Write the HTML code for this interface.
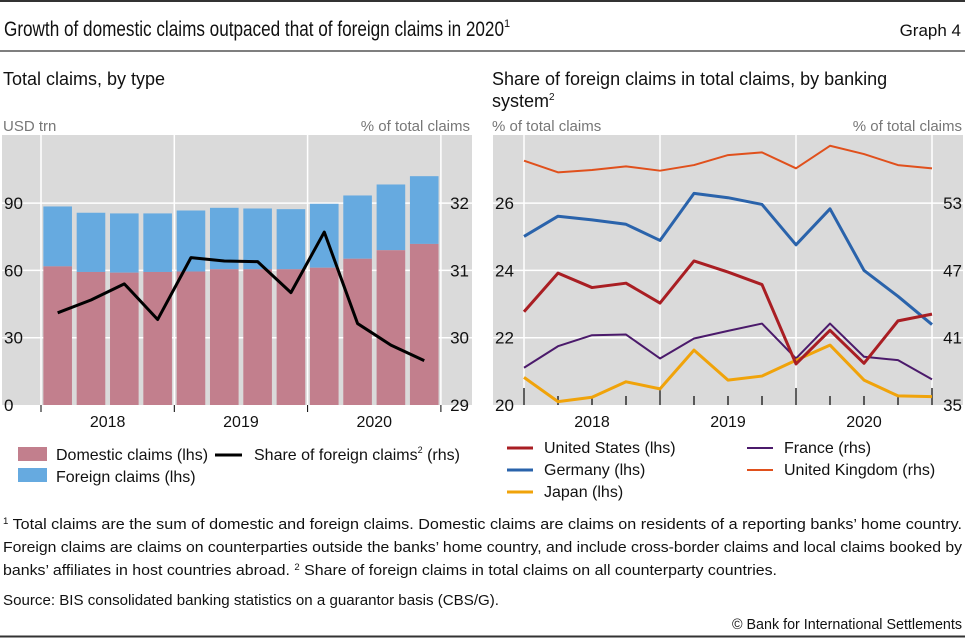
<!DOCTYPE html>
<html><head><meta charset="utf-8"><style>
html,body{margin:0;padding:0;background:#fff;}
svg{display:block;font-family:"Liberation Sans Narrow","Liberation Sans",sans-serif;}
</style></head><body>
<svg id="c" width="965" height="638" viewBox="0 0 965 638" xmlns="http://www.w3.org/2000/svg">
<line x1="0" y1="1" x2="965" y2="1" stroke="#333" stroke-width="2"/>
<text x="4" y="36" font-size="21" fill="#111"><tspan textLength="500" lengthAdjust="spacingAndGlyphs">Growth of domestic claims outpaced that of foreign claims in 2020</tspan><tspan font-size="11" dy="-9">1</tspan></text>
<text x="961" y="36" font-size="17" fill="#111" text-anchor="end">Graph 4</text>
<line x1="0" y1="51" x2="965" y2="51" stroke="#555" stroke-width="1.5"/>
<text x="3" y="85" font-size="18" fill="#111">Total claims, by type</text>
<text x="492" y="85" font-size="18" fill="#111">Share of foreign claims in total claims, by banking</text>
<text x="492" y="107" font-size="18" fill="#111">system<tspan font-size="10" dy="-7">2</tspan></text>
<text x="3" y="131" font-size="15" fill="#777">USD trn</text>
<text x="470" y="131" font-size="15" fill="#777" text-anchor="end">% of total claims</text>
<text x="492" y="131" font-size="15" fill="#777">% of total claims</text>
<text x="962" y="131" font-size="15" fill="#777" text-anchor="end">% of total claims</text>
<g id="left"></g>
<g id="right"></g>
<g>
<rect x="18" y="447" width="29" height="14" fill="#c27f8d"/>
<text x="56" y="460" font-size="16" fill="#111">Domestic claims (lhs)</text>
<line x1="215" y1="455" x2="242" y2="455" stroke="#000" stroke-width="3"/>
<text x="254" y="460" font-size="16" fill="#111">Share of foreign claims<tspan font-size="9" dy="-7">2</tspan><tspan dy="7"> (rhs)</tspan></text>
<rect x="18" y="468" width="29" height="14" fill="#66aae0"/>
<text x="56" y="482" font-size="16" fill="#111">Foreign claims (lhs)</text>
</g>
<g id="rleg"></g>
<text x="3" y="529" font-size="15" fill="#111" textLength="959" lengthAdjust="spacingAndGlyphs"><tspan font-size="9" dy="-5">1</tspan><tspan dy="5">  Total claims are the sum of domestic and foreign claims. Domestic claims are claims on residents of a reporting banks’ home country.</tspan></text>
<text x="3" y="552" font-size="15" fill="#111" textLength="959" lengthAdjust="spacingAndGlyphs">Foreign claims are claims on counterparties outside the banks’ home country, and include cross-border claims and local claims booked by</text>
<text x="3" y="575" font-size="15" fill="#111" textLength="774" lengthAdjust="spacingAndGlyphs">banks’ affiliates in host countries abroad.   <tspan font-size="9" dy="-5">2</tspan><tspan dy="5">  Share of foreign claims in total claims on all counterparty countries.</tspan></text>
<text x="3" y="605" font-size="15" fill="#111" textLength="496" lengthAdjust="spacingAndGlyphs">Source: BIS consolidated banking statistics on a guarantor basis (CBS/G).</text>
<text x="962" y="629" font-size="15" fill="#111" text-anchor="end" textLength="230" lengthAdjust="spacingAndGlyphs">© Bank for International Settlements</text>
<line x1="0" y1="636.5" x2="965" y2="636.5" stroke="#333" stroke-width="2"/>
</svg>
<script>
const years = ["2018","2019","2020"];
const leftTicks = [0,30,60,90];
const leftTicksR = [29,30,31,32];
const domestic = [61.8,59.3,59.0,59.3,59.5,60.5,60.5,60.5,61.2,65.2,69.0,71.8];
const totalClaims = [88.5,85.7,85.4,85.4,86.7,87.9,87.6,87.3,89.7,93.4,98.3,102.0];
const shareForeign = [30.37,30.56,30.80,30.27,31.19,31.14,31.13,30.67,31.57,30.21,29.89,29.66];
const rightTicks = [20,22,24,26];
const rightTicksR = [35,41,47,53];
const us = [22.77,23.92,23.49,23.62,23.03,24.28,23.95,23.58,21.22,22.22,21.24,22.50,22.70];
const germany = [25.01,25.61,25.50,25.37,24.89,26.29,26.16,25.96,24.76,25.83,24.00,23.23,22.39];
const japan = [20.82,20.10,20.23,20.69,20.48,21.63,20.74,20.86,21.33,21.78,20.74,20.27,20.25];
const france = [38.32,40.24,41.22,41.28,39.15,40.93,41.61,42.26,39.15,42.26,39.30,39.00,37.28];
const uk = [56.78,55.74,55.95,56.27,55.89,56.39,57.28,57.52,56.10,58.11,57.37,56.39,56.10];

(function(){
const NS="http://www.w3.org/2000/svg";
function mk(parent,tag,attrs){const e=document.createElementNS(NS,tag);for(const k in attrs)e.setAttribute(k,attrs[k]);parent.appendChild(e);return e;}
const L=document.getElementById('left'), R=document.getElementById('right');
const yTop=135, bot=405;
const lx0=2, lx1=472, lgx=41, yearW=133.3, barStep=yearW/4;
const yL=v=>bot-(v/30)*67.3;
const yL2=v=>bot-(v-29)*67.3;
let e=mk(L,'rect',{x:lx0,y:yTop,width:lx1-lx0,height:bot-yTop,fill:'#dadada'});


leftTicks.forEach((t,i)=>{
  if(t>0){e=mk(L,'line',{x1:lx0,x2:lx1,y1:yL(t),y2:yL(t),stroke:'#fff','stroke-width':1.5});
  
  }
  e=mk(L,'text',{x:4,y:yL(t)+6,'font-size':17,fill:'#111'});e.textContent=t;
  
  
  e=mk(L,'text',{x:469,y:yL2(leftTicksR[i])+6,'font-size':17,fill:'#111','text-anchor':'end'});e.textContent=leftTicksR[i];
  
  
});
for(let k=0;k<4;k++){const x=lgx+k*yearW;
  e=mk(L,'line',{x1:x,x2:x,y1:yTop,y2:bot,stroke:'#fff','stroke-width':1.5});
  
  
  e=mk(L,'line',{x1:x,x2:x,y1:bot,y2:bot+7,stroke:'#000','stroke-width':1});
  
  }
years.forEach((y,i)=>{e=mk(L,'text',{x:lgx+yearW*(i+0.5),y:427,'font-size':16,fill:'#111','text-anchor':'middle'});e.textContent=y;
  
  });
const cx=i=>lgx+barStep*(i+0.5);
domestic.forEach((d,i)=>{
  const x=cx(i)-14.3;
  e=mk(L,'rect',{x:x,y:yL(totalClaims[i]),width:28.6,height:yL(d)-yL(totalClaims[i]),fill:'#66aae0'});
  
  
  e=mk(L,'rect',{x:x,y:yL(d),width:28.6,height:bot-yL(d),fill:'#c27f8d'});
  
  
});
e=mk(L,'polyline',{points:shareForeign.map((v,i)=>cx(i)+','+yL2(v)).join(' '),fill:'none',stroke:'#000','stroke-width':3,'stroke-linejoin':'round'});



const rx0=493, rx1=963, rpx0=524, rstep=34;
const yR=v=>bot-(v-20)/2*67.3;
const yR2=v=>bot-(v-35)/6*67.3;
e=mk(R,'rect',{x:rx0,y:yTop,width:rx1-rx0,height:bot-yTop,fill:'#dadada'});


rightTicks.forEach((t,i)=>{
  if(i>0){e=mk(R,'line',{x1:rx0,x2:rx1,y1:yR(t),y2:yR(t),stroke:'#fff','stroke-width':1.5});
  
  }
  e=mk(R,'text',{x:495,y:yR(t)+6,'font-size':17,fill:'#111'});e.textContent=t;
  
  
  e=mk(R,'text',{x:962,y:yR2(rightTicksR[i])+6,'font-size':17,fill:'#111','text-anchor':'end'});e.textContent=rightTicksR[i];
  
  
});
const rx=i=>rpx0+rstep*i;
for(let i=0;i<13;i++){
  if(i%4===0){e=mk(R,'line',{x1:rx(i),x2:rx(i),y1:yTop,y2:bot,stroke:'#fff','stroke-width':1.5});
  
  }
  e=mk(R,'line',{x1:rx(i),x2:rx(i),y1:i%4===0?bot-17:bot-9,y2:bot,stroke:'#000','stroke-width':1.2});
  
  
}
years.forEach((y,i)=>{e=mk(R,'text',{x:rx(i*4+2),y:427,'font-size':16,fill:'#111','text-anchor':'middle'});e.textContent=y;
  
  });
const series=[
  [uk,yR2,'#e0501c',2,'line-united-kingdom'],
  [france,yR2,'#4b1a6b',2,'line-france'],
  [japan,yR,'#f0a30a',3,'line-japan'],
  [germany,yR,'#2a63ab',3,'line-germany'],
  [us,yR,'#a91e23',3,'line-united-states']];
series.forEach(s=>{
  e=mk(R,'polyline',{points:s[0].map((v,i)=>rx(i)+','+s[1](v)).join(' '),fill:'none',stroke:s[2],'stroke-width':s[3],'stroke-linejoin':'round'});
  
  
});
const RL=document.getElementById('rleg');
const legItems=[['United States (lhs)','#a91e23',507,453,3],['Germany (lhs)','#2a63ab',507,475,3],['Japan (lhs)','#f0a30a',507,497,3],['France (rhs)','#4b1a6b',747,453,2],['United Kingdom (rhs)','#e0501c',747,475,2]];
legItems.forEach(it=>{
  e=mk(RL,'line',{x1:it[2],x2:it[2]+26,y1:it[3]-5,y2:it[3]-5,stroke:it[1],'stroke-width':it[4]});
  
  
  e=mk(RL,'text',{x:it[2]+37,y:it[3],'font-size':16,fill:'#111'});e.textContent=it[0];
  
  
});
})();
</script>
</body></html>
